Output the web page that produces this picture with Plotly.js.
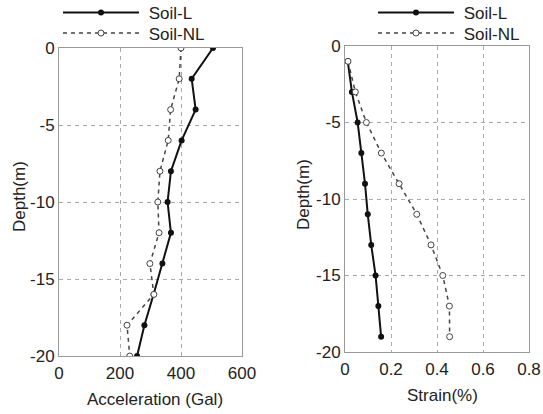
<!DOCTYPE html>
<html>
<head>
<meta charset="utf-8">
<script src="https://cdn.plot.ly/plotly-3.0.1.min.js"></script>
<style>html,body{margin:0;padding:0;background:#fff;}#chart{width:543px;height:414px;}</style>
</head>
<body>
<div id="chart"></div>
<script>
// Left panel: acceleration vs depth
const depthAcc = [0, -2, -4, -6, -8, -10, -12, -14, -16, -18, -20];
const accL  = [505, 435, 448, 402, 367, 356, 367, 339, 310, 280, 256];
const accNL = [400, 394, 366, 358, 331, 324, 328, 298, 311, 223, 232];

// Right panel: strain vs depth
const depthStrain = [-1, -3, -5, -7, -9, -11, -13, -15, -17, -19];
const strainL  = [0.012, 0.030, 0.055, 0.071, 0.087, 0.099, 0.114, 0.133, 0.145, 0.157];
const strainNL = [0.013, 0.045, 0.093, 0.158, 0.235, 0.312, 0.374, 0.425, 0.454, 0.455];

// Series names and axis titles
const seriesNames = ['Soil-L', 'Soil-NL'];
const accTitle = 'Acceleration (Gal)';
const strainTitle = 'Strain(%)';
const depthTitle = 'Depth(m)';

// Tick labels
const depthTickVals = [0, -5, -10, -15, -20];
const depthTickText = ['0', '-5', '-10', '-15', '-20'];
const accTickVals = [0, 200, 400, 600];
const accTickText = ['0', '200', '400', '600'];
const strainTickVals = [0, 0.2, 0.4, 0.6, 0.8];
const strainTickText = ['0', '0.2', '0.4', '0.6', '0.8'];

const W = 543, H = 414;
const font = {family: 'Liberation Sans, Arial, sans-serif', size: 17, color: '#222'};

const lineL = {color: '#111', width: 2};
const lineNL = {color: '#444', width: 1.5, dash: '4px,4px'};
const mkL = {symbol: 'circle', size: 6, color: '#111'};
const mkNL = {symbol: 'circle', size: 6, color: '#fff', line: {color: '#444', width: 1}};

const traces = [
  {x: accL, y: depthAcc, mode: 'lines+markers', name: ' ' + seriesNames[0], line: lineL, marker: mkL, xaxis: 'x', yaxis: 'y', legend: 'legend'},
  {x: accNL, y: depthAcc, mode: 'lines+markers', name: ' ' + seriesNames[1], line: lineNL, marker: mkNL, xaxis: 'x', yaxis: 'y', legend: 'legend2'},
  {x: strainL, y: depthStrain, mode: 'lines+markers', name: ' ' + seriesNames[0], line: lineL, marker: mkL, xaxis: 'x2', yaxis: 'y2', legend: 'legend3'},
  {x: strainNL, y: depthStrain, mode: 'lines+markers', name: ' ' + seriesNames[1], line: lineNL, marker: mkNL, xaxis: 'x2', yaxis: 'y2', legend: 'legend4'}
];

function ax(extra) {
  return Object.assign({
    showline: true, mirror: true, linecolor: '#999', linewidth: 1,
    showgrid: true, gridcolor: '#aaa', griddash: '4px,4px', gridwidth: 1,
    zeroline: false, ticks: '', tickfont: font, tickmode: 'array'
  }, extra);
}

function leg(xpx, ypx) {
  return {x: xpx / W, y: 1 - ypx / H, xanchor: 'left', yanchor: 'middle', itemwidth: 76,
    font: font, bgcolor: 'rgba(0,0,0,0)', borderwidth: 0};
}

function ann(text, xpx, ypx, angle) {
  return {text: text, xref: 'paper', yref: 'paper', x: xpx / W, y: 1 - ypx / H,
    xanchor: 'center', yanchor: 'middle', showarrow: false, textangle: angle || 0, font: font};
}

const layout = {
  width: W, height: H,
  margin: {l: 0, r: 0, t: 0, b: 0, autoexpand: false},
  paper_bgcolor: '#fff', plot_bgcolor: '#fff',
  font: font,
  showlegend: true,
  xaxis: ax({domain: [59 / W, 242 / W], range: [0, 600], tickvals: accTickVals, ticktext: accTickText, anchor: 'y', ticklabelstandoff: 2}),
  yaxis: ax({domain: [1 - 356 / H, 1 - 48 / H], range: [-20, 0], tickvals: depthTickVals, ticktext: depthTickText, anchor: 'x'}),
  xaxis2: ax({domain: [345 / W, 529 / W], range: [0, 0.8], tickvals: strainTickVals, ticktext: strainTickText, anchor: 'y2', ticklabelstandoff: 2}),
  yaxis2: ax({domain: [1 - 352 / H, 1 - 46 / H], range: [-20, 0], tickvals: depthTickVals, ticktext: depthTickText, anchor: 'x2'}),
  legend: leg(58, 13),
  legend2: leg(58, 33.5),
  legend3: leg(373, 13),
  legend4: leg(373, 33.5),
  annotations: [
    ann(accTitle, 155, 399),
    ann(strainTitle, 442.5, 395.5),
    ann(depthTitle, 19, 197, -90),
    ann(depthTitle, 303, 195, -90)
  ]
};

Plotly.newPlot('chart', traces, layout, {displayModeBar: false, staticPlot: true});
</script>
</body>
</html>
